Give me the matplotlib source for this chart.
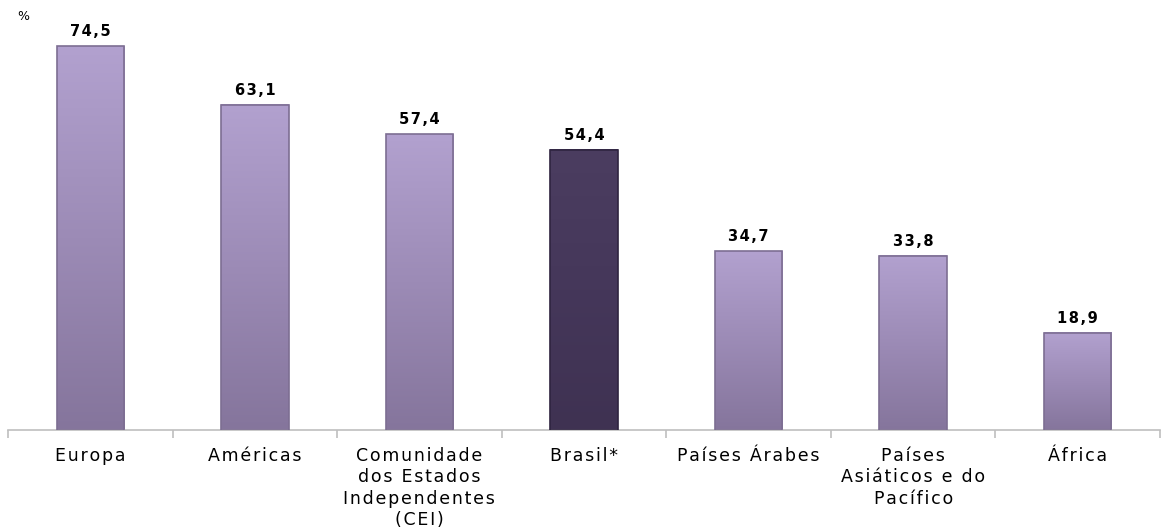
import matplotlib
matplotlib.use("Agg")
import matplotlib.pyplot as plt
import numpy as np
from matplotlib.colors import LinearSegmentedColormap

categories = ["Europa", "Américas", "Comunidade\ndos Estados\nIndependentes\n(CEI)", "Brasil*",
              "Países Árabes", "Países\nAsiáticos e do\nPacífico", "África"]
values = [74.5, 63.1, 57.4, 54.4, 34.7, 33.8, 18.9]
labels = ["74,5", "63,1", "57,4", "54,4", "34,7", "33,8", "18,9"]
highlight = "Brasil*"


def track(s, sp="\u200a"):
    return "\n".join(sp.join(line) for line in s.split("\n"))


fig = plt.figure(figsize=(11.67, 5.29), dpi=100)
ax = fig.add_axes([8/1167, 99/529, 1152/1167, 412.3/529])
x = np.arange(len(values))
bars = ax.bar(x, values, width=0.41, color="none", edgecolor="none", zorder=2)
ax.set_xlim(-0.5, len(values) - 0.5)
ax.set_ylim(0, 80)

light = LinearSegmentedColormap.from_list("l", ["#85759c", "#9c8bb6", "#b2a1cf"])
dark = LinearSegmentedColormap.from_list("d", ["#3f3252", "#45375a", "#4b3d60"])
grad = np.linspace(0, 1, 256).reshape(-1, 1)
for b, cat in zip(bars, categories):
    x0, w, h = b.get_x(), b.get_width(), b.get_height()
    cmap = dark if cat == highlight else light
    ax.imshow(grad, extent=[x0, x0 + w, 0, h], origin="lower", aspect="auto",
              cmap=cmap, zorder=2)
    ec = "#2f2440" if cat == highlight else "#7d6e92"
    ax.add_patch(plt.Rectangle((x0, 0), w, h, fill=False, edgecolor=ec, lw=1.2, zorder=3))

for b, lab in zip(bars, labels):
    ax.annotate(track(lab), (b.get_x() + b.get_width() / 2, b.get_height()),
                xytext=(0, 5), textcoords="offset points", ha="center", va="bottom",
                fontsize=10.5, fontweight="bold", family="DejaVu Sans", color="#000000")

for s in ["top", "right", "left"]:
    ax.spines[s].set_visible(False)
ax.spines["bottom"].set_color("#bfbfbf")
ax.spines["bottom"].set_linewidth(1.2)
ax.set_yticks([])
ax.set_xticks(x)
ax.set_xticklabels([track(c) for c in categories], fontsize=12.5, family="DejaVu Sans",
                   linespacing=1.25)
ax.tick_params(axis="x", which="major", length=0, pad=12)
ax.set_xticks(np.arange(-0.5, len(values)), minor=True)
ax.tick_params(axis="x", which="minor", length=6, color="#bfbfbf", width=1.2)

fig.text(23/1167, 1 - 17/529, "%", fontsize=9, ha="center", va="center", family="DejaVu Sans")

fig.savefig("out.png", dpi=100)
